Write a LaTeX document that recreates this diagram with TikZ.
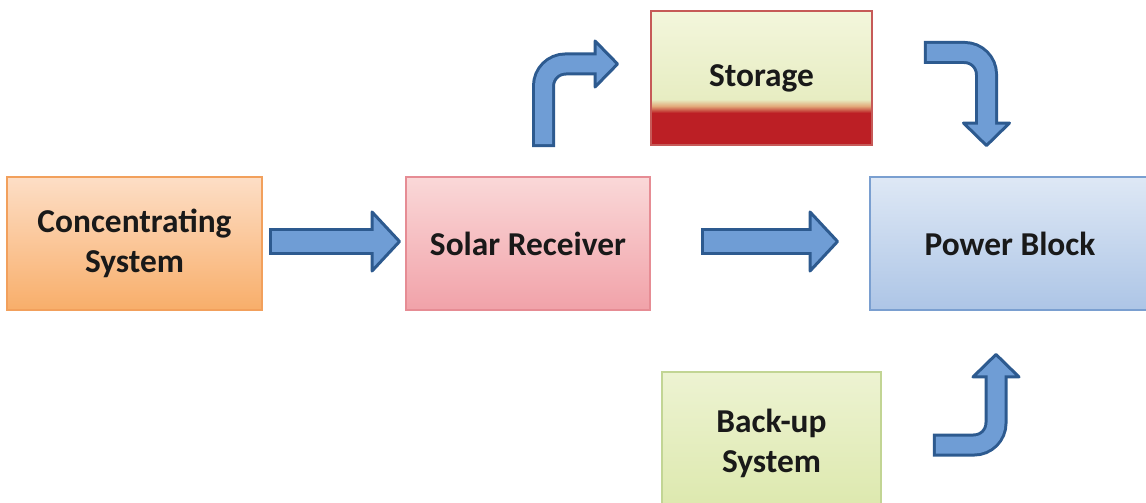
\documentclass[tikz,border=0pt]{standalone}
\usepackage{fontspec}
\setmainfont{Carlito}
\usetikzlibrary{calc}

\definecolor{concTop}{HTML}{FDDEC6}
\definecolor{concBot}{HTML}{F8AE6A}
\definecolor{concLine}{HTML}{F2A05C}
\definecolor{recvTop}{HTML}{FAD8D8}
\definecolor{recvBot}{HTML}{F1A2A9}
\definecolor{recvLine}{HTML}{E68C94}
\definecolor{storTop}{HTML}{F3F6DC}
\definecolor{storMid}{HTML}{E7EDC2}
\definecolor{storWarm}{HTML}{E2A878}
\definecolor{storRed}{HTML}{BC1F25}
\definecolor{storLine}{HTML}{C65A58}
\definecolor{powTop}{HTML}{DEE8F5}
\definecolor{powBot}{HTML}{ADC5E6}
\definecolor{powLine}{HTML}{7A9FD0}
\definecolor{backTop}{HTML}{EDF3D2}
\definecolor{backBot}{HTML}{DCE8AC}
\definecolor{backLine}{HTML}{C2D594}
\definecolor{arrFill}{HTML}{6F9DD5}
\definecolor{arrEdge}{HTML}{2D5A8F}

% light top, thin warm seam, red bottom band
\pgfdeclareverticalshading{storage shade}{100bp}{color(0bp)=(storRed); color(37bp)=(storRed);
  color(39.5bp)=(storWarm); color(42bp)=(storMid); color(75bp)=(storTop); color(100bp)=(storTop)}

\tikzset{
  block/.style={draw, line width=1.1pt, align=center, text=black!90,
    font=\fontsize{19}{23}\selectfont\bfseries},
  arrow edge/.style={draw=arrEdge, rounded corners=0.44cm},
  arrow body/.style={draw=arrFill, rounded corners=0.44cm},
  arrow head/.style={fill=arrFill, draw=arrEdge, line width=0.06cm, line join=round}
}

% fat arrow: from, path op, to, tip angle, shaft width, head width, head length
\newcommand{\flowarrow}[7]{%
  \draw[arrow edge, line width=#5, shorten >=#7-0.04cm] (#1) #2 (#3);
  \filldraw[arrow head, shift={(#3)}, rotate=#4] (-0.03cm,0) -- (-#7,#6/2) -- (-#7,-#6/2) -- cycle;
  \draw[arrow body, line width=#5-0.12cm, shorten <=0.06cm, shorten >=#7-0.05cm] (#1) #2 (#3);
}

\begin{document}
\begin{tikzpicture}
  \useasboundingbox (0,0) rectangle (22.92,10.04);
  \clip (0,0) rectangle (22.92,10.04);

  % the five blocks
  \node[block, top color=concTop, bottom color=concBot, draw=concLine,
    minimum width=5.10cm, minimum height=2.66cm] (conc) at (2.69,5.17) {Concentrating\\System};
  \node[block, top color=recvTop, bottom color=recvBot, draw=recvLine,
    minimum width=4.88cm, minimum height=2.66cm] (recv) at (10.56,5.17) {Solar Receiver};
  \node[block, shading=storage shade, draw=storLine,
    minimum width=4.42cm, minimum height=2.68cm] (stor) at (15.23,8.48) {Storage};
  \node[block, top color=powTop, bottom color=powBot, draw=powLine,
    minimum width=5.60cm, minimum height=2.66cm] (pow) at (20.20,5.17) {Power Block};
  \node[block, top color=backTop, bottom color=backBot, draw=backLine,
    minimum width=4.38cm, minimum height=2.86cm] (back) at (15.43,1.17) {Back-up\\System};

  % arrow ends
  \coordinate (c1) at ($(conc.east)+(0.12,0.04)$);
  \coordinate (r1) at ($(recv.west)+(-0.08,0.04)$);
  \coordinate (r2) at ($(recv.east)+(1.00,0.04)$);
  \coordinate (p1) at ($(pow.west)+(-0.60,0.04)$);
  \coordinate (r3) at ($(recv.north)+(0.31,0.58)$);
  \coordinate (s1) at ($(stor.west)+(-0.62,0.28)$);
  \coordinate (s2) at ($(stor.east)+(1.02,0.51)$);
  \coordinate (p2) at ($(pow.north)+(-0.47,0.58)$);
  \coordinate (b1) at ($(back.east)+(1.02,-0.03)$);
  \coordinate (p3) at ($(pow.south)+(-0.28,-0.84)$);

  % straight arrows
  \flowarrow{c1}{--}{r1}{0}{0.54cm}{1.18cm}{0.58cm}
  \flowarrow{r2}{--}{p1}{0}{0.54cm}{1.18cm}{0.58cm}
  % bent arrows
  \flowarrow{r3}{|-}{s1}{0}{0.46cm}{0.92cm}{0.48cm}
  \flowarrow{s2}{-|}{p2}{-90}{0.46cm}{0.92cm}{0.48cm}
  \flowarrow{b1}{-|}{p3}{90}{0.46cm}{0.92cm}{0.48cm}
\end{tikzpicture}
\end{document}
